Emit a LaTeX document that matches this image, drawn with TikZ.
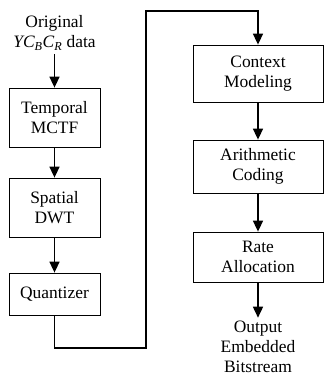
\documentclass[tikz,border=0pt]{standalone}
\usepackage{fontspec}
\setmainfont{Liberation Serif}
\usepackage{tikz}
\usetikzlibrary{arrows.meta}

\begin{document}
\begin{tikzpicture}[x=1bp,y=-1bp,
	font=\fontsize{17.5}{20}\selectfont,
	blk/.style={draw=black,line width=0.8bp,inner sep=0pt,align=center},
	conn/.style={line width=1.6bp,-{Triangle[width=10bp,length=11bp]}}]
      
      \useasboundingbox (0,0) rectangle (324,378);
      
      % 左列
      \node (orig) at (54.5,33) [align=center]{Original\\\textit{YC\textsubscript{B}C\textsubscript{R}} data};
      \node (mctf) at (54.5,117.5) [blk,minimum width=91bp,minimum height=59bp]{Temporal\\MCTF};
      \node (dwt) at (54.5,207.5) [blk,minimum width=91bp,minimum height=59bp]{Spatial\\DWT};
      \node (quant) at (54.5,294) [blk,minimum width=91bp,minimum height=42bp]{Quantizer};
      
      % 右列
      \node (ctx) at (258,73.5) [blk,minimum width=130bp,minimum height=57bp]{Context\\Modeling};
      \node (arith) at (258,166.5) [blk,minimum width=130bp,minimum height=53bp]{Arithmetic\\Coding};
      \node (rate) at (258,257) [blk,minimum width=130bp,minimum height=50bp]{Rate\\Allocation};
      \node (out) at (258,347) [align=center]{Output\\Embedded\\Bitstream};
      
      \coordinate (c1) at (54.5,348);
      \coordinate (c2) at (146,348);
      \coordinate (c3) at (146,11);
      \coordinate (c4) at (258,11);
      
      \draw[conn] (orig) -- (mctf);
      \draw[conn] (mctf) -- (dwt);
      \draw[conn] (dwt) -- (quant);
      \draw[conn] (quant) -- (c1) -- (c2) -- (c3) -- (c4) -- (ctx);
      \draw[conn] (ctx) -- (arith);
      \draw[conn] (arith) -- (rate);
      \draw[conn] (rate) -- (out);
      
\end{tikzpicture}
\end{document}
